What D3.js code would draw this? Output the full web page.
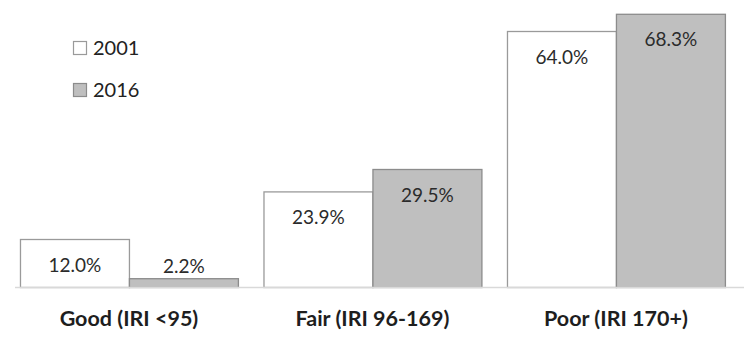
<!DOCTYPE html>
<html>
<head>
<meta charset="utf-8">
<script src="https://cdn.jsdelivr.net/npm/d3@7"></script>
<style>
  html, body { margin: 0; padding: 0; background: #fff; }
  svg { display: block; }
</style>
</head>
<body>
<svg id="chart" width="744" height="353"></svg>
<script>
const categories = ["Good (IRI <95)", "Fair (IRI 96-169)", "Poor (IRI 170+)"];
const seriesNames = ["2001", "2016"];
const values2001 = [12.0, 23.9, 64.0];
const values2016 = [2.2, 29.5, 68.3];

const W = 744, H = 353;
const svg = d3.select("#chart");
const fills = { "2001": "#ffffff", "2016": "#bfbfbf" };
const strokes = { "2001": "#9a9a9a", "2016": "#8c8c8c" };

const x = d3.scaleBand().domain(categories).range([7.2, 737.7])
  .paddingInner(0.105).paddingOuter(0.0525);
const xs = d3.scaleBand().domain(seriesNames).range([0, x.bandwidth()]).padding(0);
const y = d3.scaleLinear().domain([0, 70]).range([287, 7]);

const data = [];
categories.forEach((c, i) => {
  data.push({ cat: c, s: "2001", v: values2001[i] });
  data.push({ cat: c, s: "2016", v: values2016[i] });
});

// bars
svg.append("g").selectAll("rect").data(data).join("rect")
  .attr("x", d => x(d.cat) + xs(d.s) + 0.5)
  .attr("y", d => y(d.v) + 0.5)
  .attr("width", xs.bandwidth())
  .attr("height", d => y(0) - y(d.v))
  .attr("fill", d => fills[d.s])
  .attr("stroke", d => strokes[d.s])
  .attr("stroke-width", 1.3);

// axis
const axis = svg.append("g").attr("transform", `translate(0,${y(0) + 0.5})`)
  .call(d3.axisBottom(x).tickSize(0).tickPadding(23));
axis.select(".domain").attr("d", "M15,0H744").attr("stroke", "#d9d9d9").attr("stroke-width", 1.3);
axis.selectAll(".tick text")
  .attr("font-family", "Lato, 'Open Sans', sans-serif")
  .attr("font-weight", "bold")
  .attr("font-size", 21.5)
  .attr("fill", "#1e1e1e");

// value labels
svg.append("g").selectAll("text").data(data).join("text")
  .attr("x", d => x(d.cat) + xs(d.s) + xs.bandwidth() / 2 + 0.5)
  .attr("y", d => {
    const top = y(d.v);
    return (y(0) - top) > 40 ? top + 26 : top - 12;
  })
  .attr("dy", "0.35em")
  .attr("text-anchor", "middle")
  .attr("font-family", "Lato, 'Open Sans', sans-serif")
  .attr("font-size", 19)
  .attr("fill", "#2b2b2b")
  .text(d => d.v.toFixed(1) + "%");

// legend
const legend = svg.append("g").selectAll("g").data(seriesNames).join("g")
  .attr("transform", (d, i) => `translate(73,${41 + i * 42})`);
legend.append("rect")
  .attr("x", 0.5).attr("y", 0.5).attr("width", 13).attr("height", 13)
  .attr("fill", d => fills[d]).attr("stroke", d => strokes[d]).attr("stroke-width", 1.2);
legend.append("text")
  .attr("x", 20).attr("y", 7).attr("dy", "0.35em")
  .attr("font-family", "Lato, 'Open Sans', sans-serif")
  .attr("font-size", 20)
  .attr("fill", "#222")
  .text(d => d);
</script>
</body>
</html>
